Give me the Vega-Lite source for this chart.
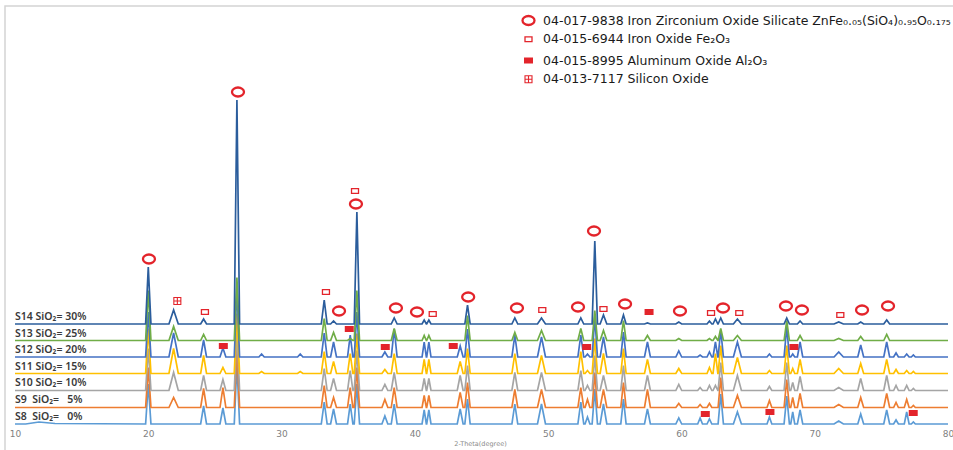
{
"$schema": "https://vega.github.io/schema/vega-lite/v6.json",
"width": 950, "height": 446,
"autosize": {"type": "none"},
"padding": {"left": 5, "top": 6, "right": 0, "bottom": 0},
"background": "white",
"config": {"view": {"stroke": "#d4d4d4", "strokeWidth": 1.5}, "font": "DejaVu Sans",
"legend": {"orient": "none", "legendX": 516, "legendY": 7, "title": null, "padding": 0, "rowPadding": -6.5, "gridAlign": "all", "labelOffset": 7, "labelLimit": 600, "labelFont": "DejaVu Sans", "labelFontSize": 12.5, "labelColor": "#1a1a1a", "symbolStrokeColor": "#E3242B"}},
"datasets": {
"xrd": [
{"x":10,"S8":3,"S9":19.5,"S10":36.5,"S11":53.5,"S12":70,"S13":86.5,"S14":103},
{"x":10.8,"S8":3,"S9":19.5,"S10":36.5,"S11":53.5,"S12":70,"S13":86.5,"S14":103},
{"x":11.8,"S8":5,"S9":19.5,"S10":36.5,"S11":53.5,"S12":70,"S13":86.5,"S14":103},
{"x":13,"S8":3.5,"S9":19.5,"S10":36.5,"S11":53.5,"S12":70,"S13":86.5,"S14":103},
{"x":19.8,"S8":3,"S9":19.5,"S10":36.5,"S11":53.5,"S12":70,"S13":86.5,"S14":103},
{"x":20,"S8":43,"S9":59.5,"S10":78.5,"S11":98.5,"S12":115,"S13":136.5,"S14":160},
{"x":20.2,"S8":3,"S9":19.5,"S10":36.5,"S11":53.5,"S12":70,"S13":86.5,"S14":103},
{"x":21.55,"S8":3,"S9":19.5,"S10":36.5,"S11":53.5,"S12":70,"S13":86.5,"S14":103},
{"x":21.9,"S8":3,"S9":29.5,"S10":54.5,"S11":78.5,"S12":94,"S13":100.5,"S14":117},
{"x":22.25,"S8":3,"S9":19.5,"S10":36.5,"S11":53.5,"S12":70,"S13":86.5,"S14":103},
{"x":23.93,"S8":3,"S9":19.5,"S10":36.5,"S11":53.5,"S12":70,"S13":86.5,"S14":103},
{"x":24.15,"S8":21,"S9":38.5,"S10":51.5,"S11":71.5,"S12":87,"S13":92.5,"S14":108},
{"x":24.37,"S8":3,"S9":19.5,"S10":36.5,"S11":53.5,"S12":70,"S13":86.5,"S14":103},
{"x":25.38,"S8":3,"S9":19.5,"S10":36.5,"S11":53.5,"S12":70,"S13":86.5,"S14":103},
{"x":25.6,"S8":19,"S9":39.5,"S10":47.5,"S11":59.5,"S12":79,"S13":86.5,"S14":103},
{"x":25.82,"S8":3,"S9":19.5,"S10":36.5,"S11":53.5,"S12":70,"S13":86.5,"S14":103},
{"x":26.45,"S8":3,"S9":19.5,"S10":36.5,"S11":53.5,"S12":70,"S13":86.5,"S14":103},
{"x":26.65,"S8":63,"S9":79.5,"S10":96.5,"S11":113.5,"S12":140,"S13":149.5,"S14":327},
{"x":26.85,"S8":3,"S9":19.5,"S10":36.5,"S11":53.5,"S12":70,"S13":86.5,"S14":103},
{"x":28.3,"S8":3,"S9":19.5,"S10":36.5,"S11":53.5,"S12":70,"S13":86.5,"S14":103},
{"x":28.5,"S8":3,"S9":19.5,"S10":36.5,"S11":55.5,"S12":73,"S13":86.5,"S14":103},
{"x":28.7,"S8":3,"S9":19.5,"S10":36.5,"S11":53.5,"S12":70,"S13":86.5,"S14":103},
{"x":31.2,"S8":3,"S9":19.5,"S10":36.5,"S11":53.5,"S12":70,"S13":86.5,"S14":103},
{"x":31.4,"S8":3,"S9":19.5,"S10":36.5,"S11":55.5,"S12":73,"S13":86.5,"S14":103},
{"x":31.6,"S8":3,"S9":19.5,"S10":36.5,"S11":53.5,"S12":70,"S13":86.5,"S14":103},
{"x":32.98,"S8":3,"S9":19.5,"S10":36.5,"S11":53.5,"S12":70,"S13":86.5,"S14":103},
{"x":33.2,"S8":25,"S9":41.5,"S10":58.5,"S11":75.5,"S12":94,"S13":108.5,"S14":127},
{"x":33.42,"S8":3,"S9":19.5,"S10":36.5,"S11":53.5,"S12":70,"S13":86.5,"S14":103},
{"x":33.68,"S8":3,"S9":19.5,"S10":36.5,"S11":53.5,"S12":70,"S13":86.5,"S14":103},
{"x":33.9,"S8":18,"S9":29.5,"S10":48.5,"S11":65.5,"S12":85,"S13":94.5,"S14":106},
{"x":34.12,"S8":3,"S9":19.5,"S10":36.5,"S11":53.5,"S12":70,"S13":86.5,"S14":103},
{"x":34.95,"S8":3,"S9":19.5,"S10":36.5,"S11":53.5,"S12":70,"S13":86.5,"S14":103},
{"x":35.15,"S8":23,"S9":39.5,"S10":56.5,"S11":73.5,"S12":92,"S13":88.5,"S14":103},
{"x":35.35,"S8":3,"S9":19.5,"S10":36.5,"S11":53.5,"S12":70,"S13":86.5,"S14":103},
{"x":35.45,"S8":3,"S9":19.5,"S10":36.5,"S11":53.5,"S12":70,"S13":86.5,"S14":103},
{"x":35.65,"S8":43,"S9":59.5,"S10":76.5,"S11":93.5,"S12":115,"S13":136.5,"S14":215},
{"x":35.85,"S8":3,"S9":19.5,"S10":36.5,"S11":53.5,"S12":70,"S13":86.5,"S14":103},
{"x":37.53,"S8":3,"S9":19.5,"S10":36.5,"S11":53.5,"S12":70,"S13":86.5,"S14":103},
{"x":37.75,"S8":11,"S9":27.5,"S10":42.5,"S11":57.5,"S12":75,"S13":86.5,"S14":103},
{"x":37.97,"S8":3,"S9":19.5,"S10":36.5,"S11":53.5,"S12":70,"S13":86.5,"S14":103},
{"x":38.23,"S8":3,"S9":19.5,"S10":36.5,"S11":53.5,"S12":70,"S13":86.5,"S14":103},
{"x":38.45,"S8":23,"S9":39.5,"S10":54.5,"S11":73.5,"S12":98,"S13":98.5,"S14":109},
{"x":38.67,"S8":3,"S9":19.5,"S10":36.5,"S11":53.5,"S12":70,"S13":86.5,"S14":103},
{"x":40.54,"S8":3,"S9":19.5,"S10":36.5,"S11":53.5,"S12":70,"S13":86.5,"S14":103},
{"x":40.7,"S8":17,"S9":31.5,"S10":48.5,"S11":67.5,"S12":85,"S13":91.5,"S14":107},
{"x":40.86,"S8":3,"S9":19.5,"S10":36.5,"S11":53.5,"S12":70,"S13":86.5,"S14":103},
{"x":40.89,"S8":3,"S9":19.5,"S10":36.5,"S11":53.5,"S12":70,"S13":86.5,"S14":103},
{"x":41.05,"S8":17,"S9":31.5,"S10":48.5,"S11":67.5,"S12":85,"S13":91.5,"S14":107},
{"x":41.21,"S8":3,"S9":19.5,"S10":36.5,"S11":53.5,"S12":70,"S13":86.5,"S14":103},
{"x":43.18,"S8":3,"S9":19.5,"S10":36.5,"S11":53.5,"S12":70,"S13":86.5,"S14":103},
{"x":43.4,"S8":18,"S9":34.5,"S10":51.5,"S11":65.5,"S12":81,"S13":86.5,"S14":103},
{"x":43.62,"S8":3,"S9":19.5,"S10":36.5,"S11":53.5,"S12":70,"S13":86.5,"S14":103},
{"x":43.75,"S8":3,"S9":19.5,"S10":36.5,"S11":53.5,"S12":70,"S13":86.5,"S14":103},
{"x":43.95,"S8":28,"S9":44.5,"S10":61.5,"S11":78.5,"S12":98,"S13":111.5,"S14":122},
{"x":44.15,"S8":3,"S9":19.5,"S10":36.5,"S11":53.5,"S12":70,"S13":86.5,"S14":103},
{"x":47.28,"S8":3,"S9":19.5,"S10":36.5,"S11":53.5,"S12":70,"S13":86.5,"S14":103},
{"x":47.5,"S8":23,"S9":37.5,"S10":54.5,"S11":73.5,"S12":92,"S13":94.5,"S14":109},
{"x":47.72,"S8":3,"S9":19.5,"S10":36.5,"S11":53.5,"S12":70,"S13":86.5,"S14":103},
{"x":49.2,"S8":3,"S9":19.5,"S10":36.5,"S11":53.5,"S12":70,"S13":86.5,"S14":103},
{"x":49.5,"S8":23,"S9":37.5,"S10":54.5,"S11":71.5,"S12":90,"S13":96.5,"S14":109},
{"x":49.8,"S8":3,"S9":19.5,"S10":36.5,"S11":53.5,"S12":70,"S13":86.5,"S14":103},
{"x":52.23,"S8":3,"S9":19.5,"S10":36.5,"S11":53.5,"S12":70,"S13":86.5,"S14":103},
{"x":52.45,"S8":25,"S9":39.5,"S10":56.5,"S11":75.5,"S12":92,"S13":98.5,"S14":109},
{"x":52.67,"S8":3,"S9":19.5,"S10":36.5,"S11":53.5,"S12":70,"S13":86.5,"S14":103},
{"x":52.77,"S8":3,"S9":19.5,"S10":36.5,"S11":53.5,"S12":70,"S13":86.5,"S14":103},
{"x":52.95,"S8":10,"S9":27.5,"S10":41.5,"S11":56.5,"S12":73,"S13":86.5,"S14":103},
{"x":53.13,"S8":3,"S9":19.5,"S10":36.5,"S11":53.5,"S12":70,"S13":86.5,"S14":103},
{"x":53.3,"S8":3,"S9":19.5,"S10":36.5,"S11":53.5,"S12":70,"S13":86.5,"S14":103},
{"x":53.5,"S8":38,"S9":54.5,"S10":71.5,"S11":88.5,"S12":110,"S13":116.5,"S14":186},
{"x":53.7,"S8":3,"S9":19.5,"S10":36.5,"S11":53.5,"S12":70,"S13":86.5,"S14":103},
{"x":53.9,"S8":3,"S9":19.5,"S10":36.5,"S11":53.5,"S12":70,"S13":86.5,"S14":103},
{"x":54.15,"S8":23,"S9":37.5,"S10":51.5,"S11":73.5,"S12":90,"S13":96.5,"S14":112},
{"x":54.4,"S8":3,"S9":19.5,"S10":36.5,"S11":53.5,"S12":70,"S13":86.5,"S14":103},
{"x":55.45,"S8":3,"S9":19.5,"S10":36.5,"S11":53.5,"S12":70,"S13":86.5,"S14":103},
{"x":55.65,"S8":28,"S9":44.5,"S10":61.5,"S11":78.5,"S12":95,"S13":106.5,"S14":112},
{"x":55.85,"S8":3,"S9":19.5,"S10":36.5,"S11":53.5,"S12":70,"S13":86.5,"S14":103},
{"x":57.23,"S8":3,"S9":19.5,"S10":36.5,"S11":53.5,"S12":70,"S13":86.5,"S14":103},
{"x":57.45,"S8":18,"S9":37.5,"S10":51.5,"S11":67.5,"S12":85,"S13":91.5,"S14":104},
{"x":57.67,"S8":3,"S9":19.5,"S10":36.5,"S11":53.5,"S12":70,"S13":86.5,"S14":103},
{"x":59.58,"S8":3,"S9":19.5,"S10":36.5,"S11":53.5,"S12":70,"S13":86.5,"S14":103},
{"x":59.8,"S8":9,"S9":23.5,"S10":42.5,"S11":58.5,"S12":76,"S13":88.5,"S14":105},
{"x":60.02,"S8":3,"S9":19.5,"S10":36.5,"S11":53.5,"S12":70,"S13":86.5,"S14":103},
{"x":61.22,"S8":3,"S9":19.5,"S10":36.5,"S11":53.5,"S12":70,"S13":86.5,"S14":103},
{"x":61.4,"S8":9,"S9":22.5,"S10":39.5,"S11":53.5,"S12":72,"S13":86.5,"S14":103},
{"x":61.58,"S8":3,"S9":19.5,"S10":36.5,"S11":53.5,"S12":70,"S13":86.5,"S14":103},
{"x":61.92,"S8":3,"S9":19.5,"S10":36.5,"S11":53.5,"S12":70,"S13":86.5,"S14":103},
{"x":62.1,"S8":8,"S9":23.5,"S10":41.5,"S11":59.5,"S12":75,"S13":88.5,"S14":106},
{"x":62.28,"S8":3,"S9":19.5,"S10":36.5,"S11":53.5,"S12":70,"S13":86.5,"S14":103},
{"x":62.37,"S8":3,"S9":19.5,"S10":36.5,"S11":53.5,"S12":70,"S13":86.5,"S14":103},
{"x":62.55,"S8":3,"S9":19.5,"S10":41.5,"S11":73.5,"S12":85,"S13":90.5,"S14":108},
{"x":62.73,"S8":3,"S9":19.5,"S10":36.5,"S11":53.5,"S12":70,"S13":86.5,"S14":103},
{"x":62.75,"S8":3,"S9":19.5,"S10":36.5,"S11":53.5,"S12":70,"S13":86.5,"S14":103},
{"x":62.95,"S8":33,"S9":49.5,"S10":64.5,"S11":81.5,"S12":97,"S13":98.5,"S14":109},
{"x":63.15,"S8":3,"S9":19.5,"S10":36.5,"S11":53.5,"S12":70,"S13":86.5,"S14":103},
{"x":63.9,"S8":3,"S9":19.5,"S10":36.5,"S11":53.5,"S12":70,"S13":86.5,"S14":103},
{"x":64.2,"S8":15,"S9":31.5,"S10":51.5,"S11":69.5,"S12":85,"S13":91.5,"S14":108},
{"x":64.5,"S8":3,"S9":19.5,"S10":36.5,"S11":53.5,"S12":70,"S13":86.5,"S14":103},
{"x":66.42,"S8":3,"S9":19.5,"S10":36.5,"S11":53.5,"S12":70,"S13":86.5,"S14":103},
{"x":66.6,"S8":10,"S9":26.5,"S10":40.5,"S11":56.5,"S12":73,"S13":86.5,"S14":103},
{"x":66.78,"S8":3,"S9":19.5,"S10":36.5,"S11":53.5,"S12":70,"S13":86.5,"S14":103},
{"x":67.7,"S8":3,"S9":19.5,"S10":36.5,"S11":53.5,"S12":70,"S13":86.5,"S14":103},
{"x":67.9,"S8":31,"S9":47.5,"S10":64.5,"S11":81.5,"S12":100,"S13":106.5,"S14":109},
{"x":68.1,"S8":3,"S9":19.5,"S10":36.5,"S11":53.5,"S12":70,"S13":86.5,"S14":103},
{"x":68.2,"S8":3,"S9":19.5,"S10":36.5,"S11":53.5,"S12":70,"S13":86.5,"S14":103},
{"x":68.35,"S8":15,"S9":29.5,"S10":44.5,"S11":58.5,"S12":73,"S13":86.5,"S14":103},
{"x":68.5,"S8":3,"S9":19.5,"S10":36.5,"S11":53.5,"S12":70,"S13":86.5,"S14":103},
{"x":68.7,"S8":3,"S9":19.5,"S10":36.5,"S11":53.5,"S12":70,"S13":86.5,"S14":103},
{"x":68.9,"S8":17,"S9":33.5,"S10":50.5,"S11":67.5,"S12":85,"S13":91.5,"S14":106},
{"x":69.1,"S8":3,"S9":19.5,"S10":36.5,"S11":53.5,"S12":70,"S13":86.5,"S14":103},
{"x":71.45,"S8":3,"S9":19.5,"S10":36.5,"S11":53.5,"S12":70,"S13":86.5,"S14":103},
{"x":71.8,"S8":6,"S9":22.5,"S10":39.5,"S11":58.5,"S12":75,"S13":88.5,"S14":105},
{"x":72.15,"S8":3,"S9":19.5,"S10":36.5,"S11":53.5,"S12":70,"S13":86.5,"S14":103},
{"x":73.23,"S8":3,"S9":19.5,"S10":36.5,"S11":53.5,"S12":70,"S13":86.5,"S14":103},
{"x":73.45,"S8":13,"S9":29.5,"S10":48.5,"S11":63.5,"S12":82,"S13":90.5,"S14":105},
{"x":73.67,"S8":3,"S9":19.5,"S10":36.5,"S11":53.5,"S12":70,"S13":86.5,"S14":103},
{"x":75.18,"S8":3,"S9":19.5,"S10":36.5,"S11":53.5,"S12":70,"S13":86.5,"S14":103},
{"x":75.4,"S8":17,"S9":33.5,"S10":51.5,"S11":67.5,"S12":85,"S13":92.5,"S14":107},
{"x":75.62,"S8":3,"S9":19.5,"S10":36.5,"S11":53.5,"S12":70,"S13":86.5,"S14":103},
{"x":75.92,"S8":3,"S9":19.5,"S10":36.5,"S11":53.5,"S12":70,"S13":86.5,"S14":103},
{"x":76.1,"S8":7,"S9":24.5,"S10":41.5,"S11":57.5,"S12":74,"S13":86.5,"S14":103},
{"x":76.28,"S8":3,"S9":19.5,"S10":36.5,"S11":53.5,"S12":70,"S13":86.5,"S14":103},
{"x":76.72,"S8":3,"S9":19.5,"S10":36.5,"S11":53.5,"S12":70,"S13":86.5,"S14":103},
{"x":76.9,"S8":15,"S9":27.5,"S10":41.5,"S11":56.5,"S12":73,"S13":86.5,"S14":103},
{"x":77.08,"S8":3,"S9":19.5,"S10":36.5,"S11":53.5,"S12":70,"S13":86.5,"S14":103},
{"x":77.25,"S8":3,"S9":19.5,"S10":36.5,"S11":53.5,"S12":70,"S13":86.5,"S14":103},
{"x":77.4,"S8":5,"S9":21.5,"S10":38.5,"S11":55.5,"S12":72,"S13":86.5,"S14":103},
{"x":77.55,"S8":3,"S9":19.5,"S10":36.5,"S11":53.5,"S12":70,"S13":86.5,"S14":103},
{"x":80,"S8":3,"S9":19.5,"S10":36.5,"S11":53.5,"S12":70,"S13":86.5,"S14":103}
],
"labels": [
{"t":"S14 SiO₂= 30%","y":110},
{"t":"S13 SiO₂= 25%","y":93.5},
{"t":"S12 SiO₂= 20%","y":77},
{"t":"S11 SiO₂= 15%","y":60.5},
{"t":"S10 SiO₂= 10%","y":44},
{"t":"S9\u00a0\u00a0SiO₂=\u00a0\u00a0\u00a05%","y":27},
{"t":"S8\u00a0\u00a0SiO₂=\u00a0\u00a0\u00a00%","y":10.5}
],
"markers": [
{"m":"c","x":20.05,"y":168},{"m":"c","x":26.73,"y":335},{"m":"c","x":34.31,"y":116},{"m":"c","x":35.58,"y":223},
{"m":"c","x":38.58,"y":119},{"m":"c","x":40.16,"y":115},{"m":"c","x":44.0,"y":130},{"m":"c","x":47.66,"y":119},
{"m":"c","x":52.24,"y":120},{"m":"c","x":53.44,"y":196},{"m":"c","x":55.77,"y":123},{"m":"c","x":59.89,"y":116},
{"m":"c","x":63.12,"y":119},{"m":"c","x":67.84,"y":121},{"m":"c","x":69.04,"y":117},{"m":"c","x":73.55,"y":117},
{"m":"c","x":75.5,"y":121},
{"m":"o","x":24.25,"y":115},{"m":"o","x":33.33,"y":135},{"m":"o","x":35.51,"y":236},{"m":"o","x":41.34,"y":113},
{"m":"o","x":49.56,"y":117},{"m":"o","x":54.15,"y":118},{"m":"o","x":62.22,"y":114},{"m":"o","x":64.34,"y":114},
{"m":"o","x":71.92,"y":112},
{"m":"f","x":25.63,"y":81},{"m":"f","x":35.08,"y":98},{"m":"f","x":37.78,"y":80},{"m":"f","x":42.88,"y":81},
{"m":"f","x":52.89,"y":80},{"m":"f","x":57.57,"y":115},{"m":"f","x":61.79,"y":13},{"m":"f","x":66.64,"y":15},
{"m":"f","x":68.44,"y":80},{"m":"f","x":77.39,"y":14},
{"m":"g","x":22.18,"y":126}
]
},
"layer": [
{
"data": {"name": "xrd"},
"transform": [{"fold": ["S8","S9","S10","S11","S12","S13","S14"], "as": ["sample","v"]}],
"mark": {"type": "line", "strokeWidth": 1.7},
"encoding": {
"x": {"field": "x", "type": "quantitative", "scale": {"domain": [9.25, 80.524], "nice": false, "zero": false},
"axis": {"title": "2-Theta(degree)", "values": [10,20,30,40,50,60,70,80], "offset": -25, "domain": false, "ticks": false, "grid": false,
"labelColor": "#7f7f7f", "labelFontSize": 9, "labelFont": "DejaVu Sans", "labelPadding": 2, "labelFlush": false,
"titleFontSize": 6.5, "titleColor": "#8a8a8a", "titleFontWeight": "normal", "titleFont": "DejaVu Sans", "titlePadding": 2}},
"y": {"field": "v", "type": "quantitative", "scale": {"domain": [-25, 421], "nice": false, "zero": false}, "axis": null},
"color": {"field": "sample", "type": "nominal",
"scale": {"domain": ["S8","S9","S10","S11","S12","S13","S14"], "range": ["#5B9BD5","#ED7D31","#A5A5A5","#FFC000","#4472C4","#70AD47","#2B5D9C"]},
"legend": null}
}
},
{
"data": {"name": "labels"},
"mark": {"type": "text", "align": "left", "baseline": "middle", "font": "Noto Sans", "fontSize": 10.5, "fontWeight": 600, "color": "#3a3a3a"},
"encoding": {
"x": {"datum": 10, "type": "quantitative"},
"y": {"field": "y", "type": "quantitative", "axis": null},
"text": {"field": "t"}
}
},
{
"data": {"name": "markers"},
"mark": {"type": "point", "filled": false, "stroke": "#E3242B", "opacity": 1},
"encoding": {
"x": {"field": "x", "type": "quantitative"},
"y": {"field": "y", "type": "quantitative", "axis": null},
"shape": {"field": "m", "type": "nominal",
"scale": {"domain": ["c","o","f","g"], "range": ["M-1,0A1,0.75,0,1,1,1,0A1,0.75,0,1,1,-1,0Z","M-1,-0.68H1V0.68H-1Z","M-1,0H1","M-1,-1H1V1H-1ZM0,-1V1M-1,0H1"]},
"legend": {"labelExpr": "{'c':'04-017-9838 Iron Zirconium Oxide Silicate ZnFe₀.₀₅(SiO₄)₀.₉₅O₀.₁₇₅','o':'04-015-6944 Iron Oxide Fe₂O₃','f':'04-015-8995 Aluminum Oxide Al₂O₃','g':'04-013-7117 Silicon Oxide'}[datum.value]"}},
"size": {"field": "m", "type": "nominal", "scale": {"type": "ordinal", "domain": ["c","o","f","g"], "range": [144, 49, 81, 49]},
"legend": {"labelExpr": "{'c':'04-017-9838 Iron Zirconium Oxide Silicate ZnFe₀.₀₅(SiO₄)₀.₉₅O₀.₁₇₅','o':'04-015-6944 Iron Oxide Fe₂O₃','f':'04-015-8995 Aluminum Oxide Al₂O₃','g':'04-013-7117 Silicon Oxide'}[datum.value]"}},
"strokeWidth": {"field": "m", "type": "nominal", "scale": {"type": "ordinal", "domain": ["c","o","f","g"], "range": [2.3, 1.3, 6, 1.1]},
"legend": {"labelExpr": "{'c':'04-017-9838 Iron Zirconium Oxide Silicate ZnFe₀.₀₅(SiO₄)₀.₉₅O₀.₁₇₅','o':'04-015-6944 Iron Oxide Fe₂O₃','f':'04-015-8995 Aluminum Oxide Al₂O₃','g':'04-013-7117 Silicon Oxide'}[datum.value]"}}
}
}
]
}
